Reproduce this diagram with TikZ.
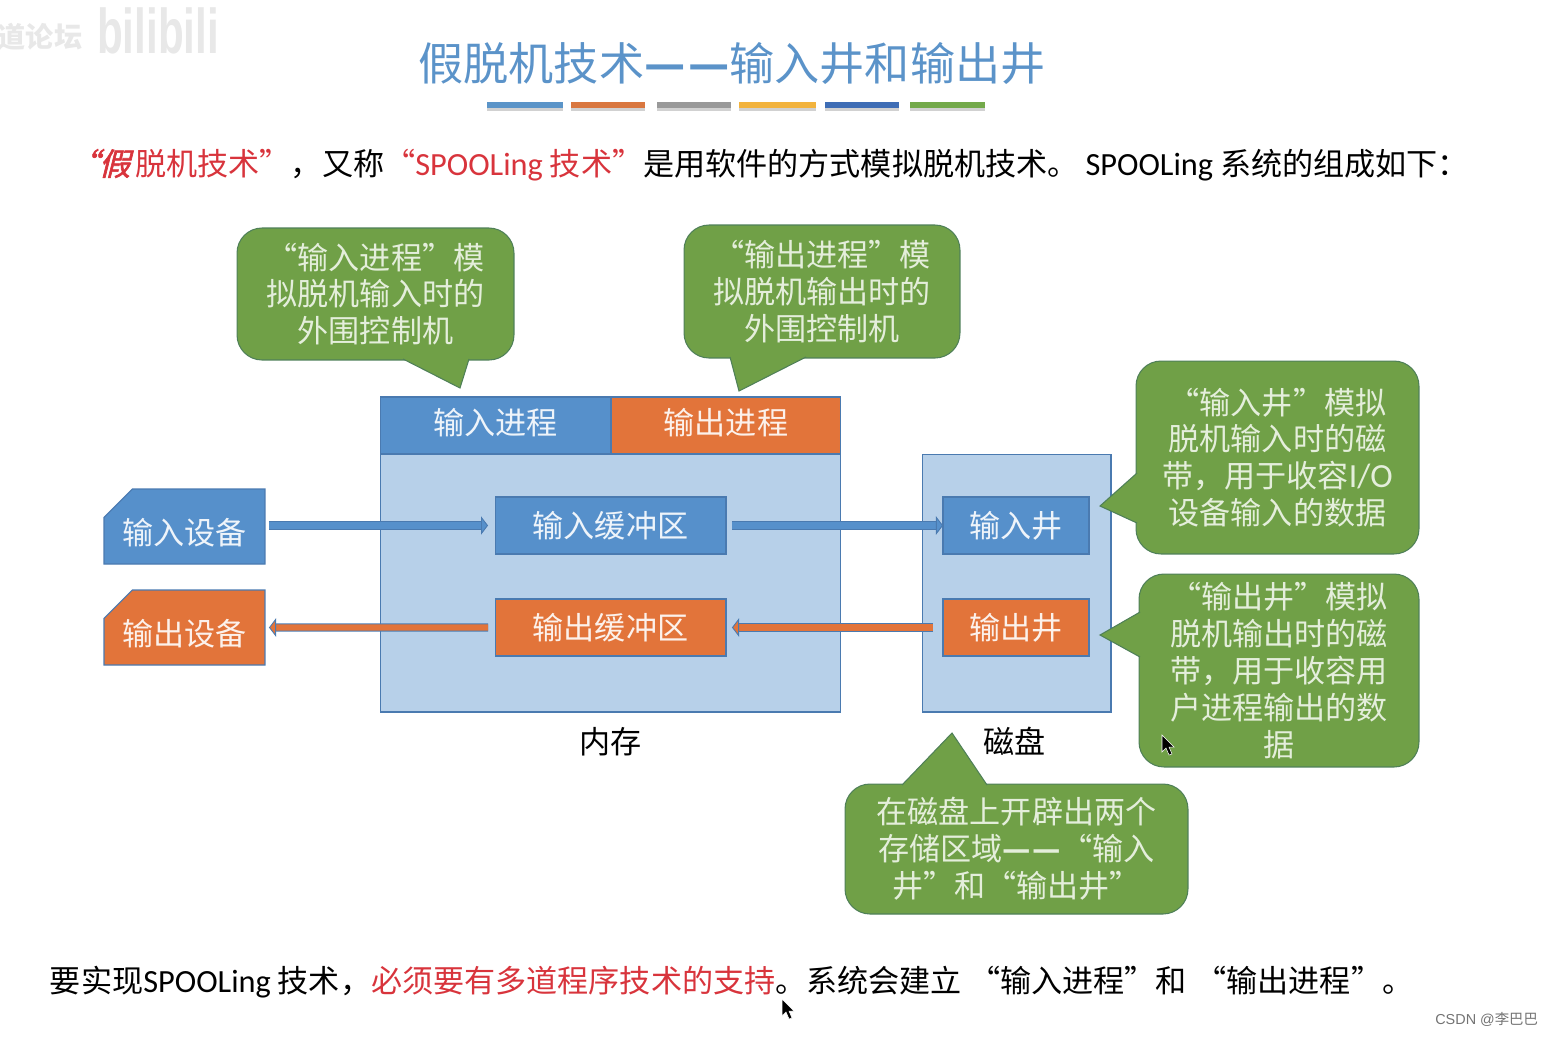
\documentclass[tikz,border=0pt]{standalone}
\usepackage{fontspec}
\setmainfont{Noto Sans CJK SC}
\newfontfamily\latinfont[Scale=1.04]{Carlito}
\newfontfamily\slantfont[FakeSlant=0.25,FakeBold=2]{Noto Sans CJK SC}
\newfontfamily\markfont{Liberation Sans}
\usetikzlibrary{arrows.meta,positioning,calc,shapes.misc}

\definecolor{procblue}{HTML}{5690CB}
\definecolor{procorange}{HTML}{E2743A}
\definecolor{panelblue}{HTML}{B7D0E9}
\definecolor{edgeblue}{HTML}{4A7AB0}
\definecolor{callgreen}{HTML}{70A047}
\definecolor{calledgegreen}{HTML}{4F8058}
\definecolor{calltext}{HTML}{E4EEDB}
\definecolor{titleblue}{HTML}{5B93C9}
\definecolor{alertred}{HTML}{D8343C}
\definecolor{barblue}{HTML}{5B94C8}
\definecolor{barorange}{HTML}{D9773F}
\definecolor{bargray}{HTML}{999999}
\definecolor{baryellow}{HTML}{F2B33D}
\definecolor{bardark}{HTML}{3E6DB5}
\definecolor{bargreen}{HTML}{73A94A}

\newcommand{\calltail}[3]{
  \fill[callgreen] #1 -- #2 -- #3 -- cycle;
  \draw[calledgegreen,line width=0.6pt] #1 -- #2 -- #3;
}
\newcommand{\lowtext}[1]{\phantom{#1}\llap{\smash{\raisebox{-3.4pt}{#1}}}}

\begin{document}
\begin{tikzpicture}[
  x=0.02cm,y=-0.02cm,
  every node/.style={align=center,outer sep=0pt,inner sep=0pt,font=\fontsize{17.7}{21}\selectfont},
  panel/.style={rectangle,draw=edgeblue,line width=0.6pt,fill=panelblue},
  bluebox/.style={rectangle,draw=edgeblue,line width=0.6pt,fill=procblue,text=white!90!procblue},
  orangebox/.style={rectangle,draw=edgeblue,line width=0.6pt,fill=procorange,text=white!90!procorange},
  devin/.style={bluebox,chamfered rectangle,chamfered rectangle corners=north west,chamfered rectangle xsep=0.58cm,chamfered rectangle ysep=0.28cm,minimum width=3.22cm,minimum height=1.5cm},
  devout/.style={orangebox,chamfered rectangle,chamfered rectangle corners=north west,chamfered rectangle xsep=0.58cm,chamfered rectangle ysep=0.28cm,minimum width=3.22cm,minimum height=1.5cm},
  callbox/.style={rectangle,rounded corners=0.5cm,draw=calledgegreen,line width=0.6pt,fill=callgreen,text=calltext},
  pipein/.style={draw=edgeblue,line width=0.5pt,double=procblue,double distance=3.6pt,-{Triangle[length=4pt,width=10.5pt,fill=procblue]}},
  pipeout/.style={draw=edgeblue,line width=0.5pt,double=procorange,double distance=3.6pt,-{Triangle[length=4pt,width=10.5pt,fill=procorange]}},
  barline/.style={line width=3.4pt}
]
\useasboundingbox (0,0) rectangle (1552,1036);
% marks of the video
\node[text=black!9,font=\fontsize{16}{18}\selectfont\bfseries] (wmforum) at (40,37) {道论坛};
\node[text=black!9,font=\markfont\fontsize{24}{26}\selectfont\bfseries,yscale=1.5,transform shape] (wmsite) at (158,31) {bilibili};
\node[text=black!55,font=\fontsize{8.2}{10}\selectfont,anchor=east] (wmauthor) at (1538,1019) {{\markfont CSDN @}李巴巴};

% heading
\node[text=titleblue,font=\fontsize{25.7}{30}\selectfont] (heading) at (732,63) {假脱机技术{\bfseries —\kern1.5pt—}输入井和输出井};
\foreach \xa/\xb/\barcol in {487/563/barblue,571/645/barorange,657/731/bargray,739/816/baryellow,825/899/bardark,910/985/bargreen}{
  \draw[barline,black!18] (\xa,108) -- (\xb,108);
  \draw[barline,\barcol] (\xa,105) -- (\xb,105);
}
\node[anchor=west] (intro) at (68,165) {\textcolor{alertred}{{\slantfont “假}\kern3pt 脱机技术”}，又称\textcolor{alertred}{“{\latinfont SPOOLing} 技术”}是用软件的方式模拟脱机技术。 {\latinfont SPOOLing} 系统的组成如下：};

% memory
\node[panel,minimum width=9.22cm,minimum height=6.3cm] (mem) at (610.5,554.5) {};
\node[bluebox,minimum width=4.62cm,minimum height=1.14cm,text depth=5pt] (procin) at (495.5,425.5) {输入进程};
\node[orangebox,minimum width=4.6cm,minimum height=1.14cm,text depth=5pt,right=0pt of procin] (procout) {输出进程};
\node[bluebox,minimum width=4.62cm,minimum height=1.14cm] (bufin) at (610.5,525.5) {输入缓冲区};
\node[orangebox,minimum width=4.62cm,minimum height=1.14cm,below=0.9cm of bufin] (bufout) {输出缓冲区};
\node[below=0.3cm of mem,text=black] (memlabel) {内存};

% disk
\node[panel,minimum width=3.78cm,minimum height=5.16cm] (disk) at (1016.5,583) {};
\node[bluebox,minimum width=2.92cm,minimum height=1.14cm] (wellin) at (1016,525.5) {输入井};
\node[orangebox,minimum width=2.92cm,minimum height=1.14cm,below=0.9cm of wellin] (wellout) {输出井};
\node[below=0.3cm of disk,xshift=-0.04cm,text=black] (disklabel) {磁盘};

% devices
\node[devin] (inputdev) at (184.5,526.5) {\lowtext{输入设备}};
\node[devout] (outputdev) at (184.5,627.5) {\lowtext{输出设备}};

% pipes
\draw[pipein,shorten <=0.08cm,shorten >=0.14cm] (bufin.west -| inputdev.east) -- (bufin.west);
\draw[pipein,shorten <=0.12cm] (bufin.east) -- (wellin.west);
\draw[pipeout,shorten <=0.14cm,shorten >=0.08cm] (bufout.west) -- (outputdev.east);
\draw[pipeout,shorten <=0.2cm,shorten >=0.12cm] (wellout.west) -- (bufout.east);

% callouts
\node[callbox,minimum width=5.54cm,minimum height=2.64cm] (noteprocin) at (375.5,294) {“输入进程”模\\拟脱机输入时的\\外围控制机};
\node[callbox,minimum width=5.52cm,minimum height=2.66cm] (noteprocout) at (822,291.5) {“输出进程”模\\拟脱机输出时的\\外围控制机};
\node[callbox,minimum width=5.66cm,minimum height=3.86cm] (notewellin) at (1277.5,457.5) {“输入井”模拟\\脱机输入时的磁\\带，用于收容{\latinfont\fontsize{18.5}{21}\selectfont I/O}\\设备输入的数据};
\node[callbox,minimum width=5.6cm,minimum height=3.86cm] (notewellout) at (1279,670.5) {“输出井”模拟\\脱机输出时的磁\\带，用于收容用\\户进程输出的数\\据};
\node[callbox,minimum width=6.86cm,minimum height=2.6cm] (notedisk) at (1016.5,849) {在磁盘上开辟出两个\\存储区域{\bfseries —\kern1pt—}“输入\\井”和“输出井”};

\coordinate (tipprocin) at (460,388);
\coordinate (tipprocout) at (739,391);
\coordinate (tipwellin) at (1100,506);
\coordinate (tipwellout) at (1100,635);
\coordinate (tipdisk) at (952,733);
\calltail{($(noteprocin.south west)+(166,-1)$)}{(tipprocin)}{($(noteprocin.south west)+(232,-1)$)}
\calltail{($(noteprocout.south west)+(46,-1)$)}{(tipprocout)}{($(noteprocout.south west)+(122,-1)$)}
\calltail{($(notewellin.north west)+(1,112)$)}{(tipwellin)}{($(notewellin.north west)+(1,162)$)}
\calltail{($(notewellout.north west)+(1,38)$)}{(tipwellout)}{($(notewellout.north west)+(1,83)$)}
\calltail{($(notedisk.north west)+(57,1)$)}{(tipdisk)}{($(notedisk.north west)+(142,1)$)}

% closing line
\node[anchor=west] (closing) at (50,982) {要实现{\latinfont SPOOLing} 技术，\textcolor{alertred}{必须要有多道程序技术的支持}。系统会建立\kern4pt “输入进程”和\kern5pt “输出进程”。};

% pointers
\foreach \cx/\cy in {1162/735,782/999}{
  \filldraw[black,draw=white,line width=0.3pt,shift={(\cx,\cy)}] (0,0) -- (0,17) -- (4,13) -- (7,20) -- (10,19) -- (7,12) -- (12,12) -- cycle;
}
\end{tikzpicture}
\end{document}
